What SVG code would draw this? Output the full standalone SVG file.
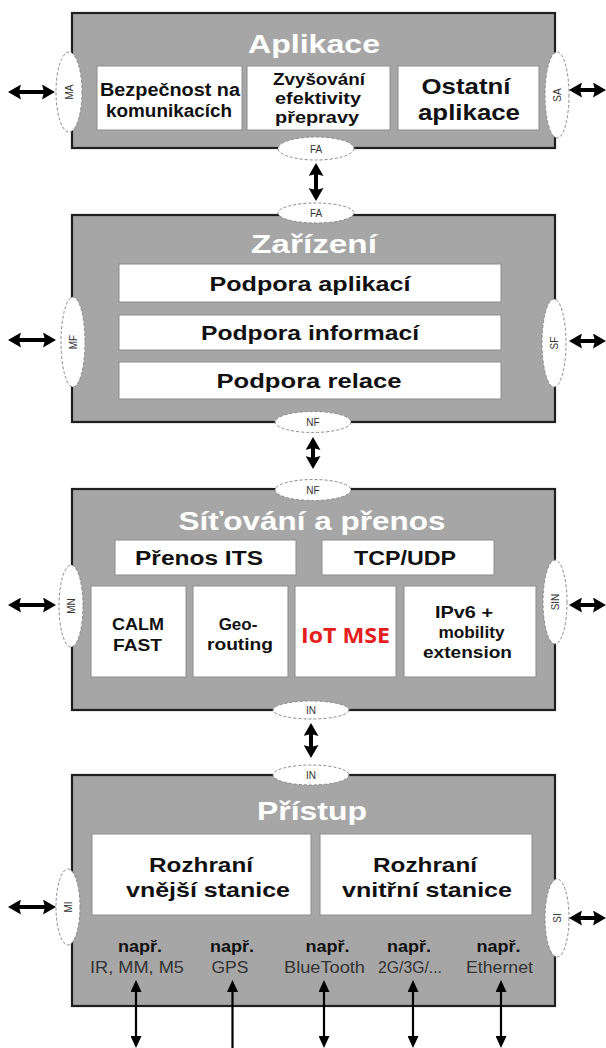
<svg xmlns="http://www.w3.org/2000/svg" width="606" height="1048" viewBox="0 0 606 1048">
<style>
.layer{fill:#a6a6a6;stroke:#1f1f1f;stroke-width:2.2}
.box{fill:#ffffff;stroke:#8c8c8c;stroke-width:1}
.title{font-family:"Liberation Sans",Arial,sans-serif;font-weight:bold;font-size:26px;fill:#ffffff;text-anchor:middle}
.t{font-family:"Liberation Sans",Arial,sans-serif;font-weight:bold;fill:#111111;text-anchor:middle}
.ex{font-family:"Liberation Sans",Arial,sans-serif;font-size:16px;fill:#333333;text-anchor:middle}
.sap{fill:#ffffff;stroke:#8a8a8a;stroke-width:1;stroke-dasharray:3 2}
.sapt{font-family:"Liberation Sans",Arial,sans-serif;font-size:10px;fill:#333333;text-anchor:middle}
.red{font-family:"Open Sans","Liberation Sans",sans-serif;font-weight:bold;font-size:21px;fill:#e3201b;text-anchor:middle}
.thick{stroke:#000;stroke-width:4;fill:none;marker-start:url(#hb);marker-end:url(#hb)}
.thin{stroke:#000;stroke-width:2.2;fill:none}
</style>
<defs>
<marker id="hb" markerUnits="userSpaceOnUse" markerWidth="13" markerHeight="15" viewBox="0 0 13 15" refX="4" refY="7.5" orient="auto-start-reverse"><path d="M0,0 L13,7.5 L0,15 L2,7.5 z" fill="#000"/></marker>
<marker id="hs" markerUnits="userSpaceOnUse" markerWidth="12" markerHeight="11" viewBox="0 0 12 11" refX="4" refY="5.5" orient="auto-start-reverse"><path d="M0,0 L12,5.5 L0,11 z" fill="#000"/></marker>
</defs>

<g id="aplikace">
<rect class="layer" x="72" y="13" width="483" height="135"/>
<text class="title" x="314" y="53" textLength="132" lengthAdjust="spacingAndGlyphs">Aplikace</text>
<g id="bezpecnost"><rect class="box" x="97" y="66" width="145" height="64"/>
<text class="t" font-size="18" x="170" y="96" textLength="140" lengthAdjust="spacingAndGlyphs">Bezpečnost na</text>
<text class="t" font-size="18" x="169" y="117" textLength="126" lengthAdjust="spacingAndGlyphs">komunikacích</text></g>
<g id="zvysovani"><rect class="box" x="247" y="66" width="143" height="64"/>
<text class="t" font-size="17" x="319" y="85" textLength="92" lengthAdjust="spacingAndGlyphs">Zvyšování</text>
<text class="t" font-size="17" x="318" y="104" textLength="86" lengthAdjust="spacingAndGlyphs">efektivity</text>
<text class="t" font-size="17" x="317" y="123" textLength="84" lengthAdjust="spacingAndGlyphs">přepravy</text></g>
<g id="ostatni"><rect class="box" x="398" y="66" width="141" height="64"/>
<text class="t" font-size="22" x="466" y="94" textLength="89" lengthAdjust="spacingAndGlyphs">Ostatní</text>
<text class="t" font-size="22" x="469" y="120" textLength="102" lengthAdjust="spacingAndGlyphs">aplikace</text></g>
</g>

<g id="zarizeni">
<rect class="layer" x="72" y="215" width="483" height="207"/>
<text class="title" x="314" y="253" textLength="126" lengthAdjust="spacingAndGlyphs">Zařízení</text>
<g id="podpora-aplikaci"><rect class="box" x="119" y="264" width="382" height="38"/>
<text class="t" font-size="21" x="310" y="291" textLength="201" lengthAdjust="spacingAndGlyphs">Podpora aplikací</text></g>
<g id="podpora-informaci"><rect class="box" x="119" y="315" width="382" height="35"/>
<text class="t" font-size="21" x="310" y="340" textLength="218" lengthAdjust="spacingAndGlyphs">Podpora informací</text></g>
<g id="podpora-relace"><rect class="box" x="119" y="362" width="382" height="37"/>
<text class="t" font-size="21" x="309" y="388" textLength="185" lengthAdjust="spacingAndGlyphs">Podpora relace</text></g>
</g>

<g id="sitovani">
<rect class="layer" x="72" y="489" width="483" height="221"/>
<text class="title" x="312" y="530" textLength="267" lengthAdjust="spacingAndGlyphs">Síťování a přenos</text>
<g id="prenos-its"><rect class="box" x="115" y="540" width="181" height="35"/>
<text class="t" font-size="20" x="199" y="565" textLength="128" lengthAdjust="spacingAndGlyphs">Přenos ITS</text></g>
<g id="tcp-udp"><rect class="box" x="322" y="540" width="172" height="35"/>
<text class="t" font-size="20" x="405" y="565" textLength="102" lengthAdjust="spacingAndGlyphs">TCP/UDP</text></g>
<g id="calm-fast"><rect class="box" x="91" y="586" width="95" height="91"/>
<text class="t" font-size="17" x="138" y="630" textLength="52" lengthAdjust="spacingAndGlyphs">CALM</text>
<text class="t" font-size="17" x="137.5" y="651" textLength="49" lengthAdjust="spacingAndGlyphs">FAST</text></g>
<g id="georouting"><rect class="box" x="193" y="586" width="95" height="91"/>
<text class="t" font-size="17" x="238" y="630">Geo-</text>
<text class="t" font-size="17" x="240" y="650" textLength="66" lengthAdjust="spacingAndGlyphs">routing</text></g>
<g id="iot-mse"><rect class="box" x="295" y="586" width="101" height="91"/>
<text class="red" x="345.5" y="643" textLength="89" lengthAdjust="spacingAndGlyphs">IoT MSE</text></g>
<g id="ipv6"><rect class="box" x="404" y="586" width="132" height="91"/>
<text class="t" font-size="17" x="464" y="618" textLength="58" lengthAdjust="spacingAndGlyphs">IPv6 +</text>
<text class="t" font-size="17" x="471.5" y="638" textLength="66" lengthAdjust="spacingAndGlyphs">mobility</text>
<text class="t" font-size="17" x="467.5" y="658" textLength="89" lengthAdjust="spacingAndGlyphs">extension</text></g>
</g>

<g id="pristup">
<rect class="layer" x="72" y="775" width="483" height="231"/>
<text class="title" x="312" y="820" textLength="110" lengthAdjust="spacingAndGlyphs">Přístup</text>
<g id="vnejsi"><rect class="box" x="92" y="834" width="219" height="81"/>
<text class="t" font-size="21" x="201" y="872" textLength="104" lengthAdjust="spacingAndGlyphs">Rozhraní</text>
<text class="t" font-size="21" x="208" y="897" textLength="164" lengthAdjust="spacingAndGlyphs">vnější stanice</text></g>
<g id="vnitrni"><rect class="box" x="320" y="834" width="212" height="81"/>
<text class="t" font-size="21" x="425" y="872" textLength="104" lengthAdjust="spacingAndGlyphs">Rozhraní</text>
<text class="t" font-size="21" x="427" y="897" textLength="170" lengthAdjust="spacingAndGlyphs">vnitřní stanice</text></g>
<g id="examples">
<text class="t" font-size="16" x="140" y="952" textLength="44" lengthAdjust="spacingAndGlyphs">např.</text>
<text class="ex" x="137" y="973" textLength="94" lengthAdjust="spacingAndGlyphs">IR, MM, M5</text>
<text class="t" font-size="16" x="232" y="952" textLength="44" lengthAdjust="spacingAndGlyphs">např.</text>
<text class="ex" x="230" y="973" textLength="37" lengthAdjust="spacingAndGlyphs">GPS</text>
<text class="t" font-size="16" x="327.5" y="952" textLength="44" lengthAdjust="spacingAndGlyphs">např.</text>
<text class="ex" x="324.5" y="973" textLength="81" lengthAdjust="spacingAndGlyphs">BlueTooth</text>
<text class="t" font-size="16" x="409" y="952" textLength="44" lengthAdjust="spacingAndGlyphs">např.</text>
<text class="ex" x="410" y="973" textLength="64" lengthAdjust="spacingAndGlyphs">2G/3G/...</text>
<text class="t" font-size="16" x="498.5" y="952" textLength="44" lengthAdjust="spacingAndGlyphs">např.</text>
<text class="ex" x="499.5" y="973" textLength="67" lengthAdjust="spacingAndGlyphs">Ethernet</text>
</g>
</g>

<g id="saps">
<g id="sap-ma"><ellipse class="sap" cx="69" cy="92" rx="13" ry="40"/><text class="sapt" transform="translate(69,92) rotate(-90)" y="3.5">MA</text></g>
<g id="sap-sa"><ellipse class="sap" cx="557" cy="95" rx="12" ry="43"/><text class="sapt" transform="translate(557,95) rotate(-90)" y="3.5">SA</text></g>
<g id="sap-fa1"><ellipse class="sap" cx="316" cy="148.5" rx="38" ry="11.5"/><text class="sapt" x="316" y="152.5" font-size="11">FA</text></g>
<g id="sap-fa2"><ellipse class="sap" cx="316" cy="213" rx="38" ry="10"/><text class="sapt" x="316" y="217" font-size="11">FA</text></g>
<g id="sap-mf"><ellipse class="sap" cx="73" cy="342" rx="12" ry="45"/><text class="sapt" transform="translate(73,342) rotate(-90)" y="3.5">MF</text></g>
<g id="sap-sf"><ellipse class="sap" cx="554" cy="343" rx="12" ry="44"/><text class="sapt" transform="translate(554,343) rotate(-90)" y="3.5">SF</text></g>
<g id="sap-nf1"><ellipse class="sap" cx="313" cy="422" rx="38" ry="10.5"/><text class="sapt" x="313" y="426" font-size="11">NF</text></g>
<g id="sap-nf2"><ellipse class="sap" cx="313" cy="490" rx="38" ry="10.5"/><text class="sapt" x="313" y="494" font-size="11">NF</text></g>
<g id="sap-mn"><ellipse class="sap" cx="71" cy="606" rx="12" ry="41"/><text class="sapt" transform="translate(71,606) rotate(-90)" y="3.5">MN</text></g>
<g id="sap-sin"><ellipse class="sap" cx="555" cy="602" rx="12" ry="42"/><text class="sapt" transform="translate(555,602) rotate(-90)" y="3.5">SIN</text></g>
<g id="sap-in1"><ellipse class="sap" cx="311" cy="710" rx="38" ry="9"/><text class="sapt" x="311" y="714" font-size="11">IN</text></g>
<g id="sap-in2"><ellipse class="sap" cx="311" cy="775" rx="38" ry="10"/><text class="sapt" x="311" y="779" font-size="11">IN</text></g>
<g id="sap-mi"><ellipse class="sap" cx="68" cy="907" rx="12" ry="38"/><text class="sapt" transform="translate(68,907) rotate(-90)" y="3.5">MI</text></g>
<g id="sap-si"><ellipse class="sap" cx="557" cy="918" rx="12" ry="39"/><text class="sapt" transform="translate(557,918) rotate(-90)" y="3.5">SI</text></g>
</g>

<g id="connectors">
<line class="thick" x1="17" y1="92" x2="46" y2="92"/>
<line class="thick" x1="578" y1="90" x2="597" y2="90"/>
<line class="thick" x1="316" y1="172" x2="316" y2="192"/>
<line class="thick" x1="17" y1="340" x2="47" y2="340"/>
<line class="thick" x1="578" y1="341" x2="597" y2="341"/>
<line class="thick" x1="313" y1="446" x2="313" y2="460"/>
<line class="thick" x1="17" y1="605" x2="47" y2="605"/>
<line class="thick" x1="578" y1="605" x2="597" y2="605"/>
<line class="thick" x1="311" y1="732" x2="311" y2="749"/>
<line class="thick" x1="17" y1="907" x2="47" y2="907"/>
<line class="thick" x1="578" y1="918" x2="597" y2="918"/>
<line class="thin" x1="136" y1="988" x2="136" y2="1040" marker-start="url(#hs)" marker-end="url(#hs)"/>
<line class="thin" x1="232.5" y1="988" x2="232.5" y2="1048" marker-start="url(#hs)"/>
<line class="thin" x1="324" y1="988" x2="324" y2="1040" marker-start="url(#hs)" marker-end="url(#hs)"/>
<line class="thin" x1="413" y1="988" x2="413" y2="1040" marker-start="url(#hs)" marker-end="url(#hs)"/>
<line class="thin" x1="501" y1="988" x2="501" y2="1040" marker-start="url(#hs)" marker-end="url(#hs)"/>
</g>
</svg>
